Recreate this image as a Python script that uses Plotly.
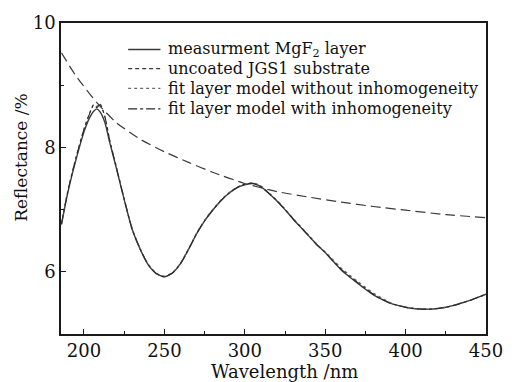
import plotly.graph_objects as go

# Wavelength grid (nm) for the measured and fitted reflectance spectra
wavelength = [186, 190, 195, 200, 203, 206, 208, 210, 213, 216, 220, 225, 230, 235,
              240, 245, 250, 255, 260, 265, 270, 275, 280, 285, 290, 295, 300, 305,
              310, 315, 320, 325, 330, 335, 340, 345, 350, 355, 360, 365, 370, 375,
              380, 385, 390, 395, 400, 405, 410, 415, 420, 425, 430, 435, 440, 445, 450]

# Measured reflectance of the MgF2 layer (%)
measured = [6.76, 7.28, 7.80, 8.25, 8.45, 8.58, 8.62, 8.57, 8.40, 8.08, 7.68, 7.16, 6.68, 6.36,
            6.11, 5.97, 5.92, 5.98, 6.13, 6.36, 6.61, 6.82, 6.99, 7.14, 7.26, 7.35, 7.40, 7.42,
            7.37, 7.26, 7.14, 7.00, 6.85, 6.71, 6.57, 6.43, 6.31, 6.17, 6.03, 5.92, 5.82, 5.72,
            5.63, 5.56, 5.50, 5.46, 5.43, 5.41, 5.40, 5.40, 5.41, 5.43, 5.46, 5.50, 5.54, 5.59, 5.64]

# Fitted layer model without inhomogeneity (%)
fit_homog = [6.78, 7.31, 7.84, 8.30, 8.52, 8.69, 8.66, 8.70, 8.50, 8.12, 7.70, 7.17, 6.69, 6.37,
             6.12, 5.98, 5.93, 5.99, 6.14, 6.37, 6.62, 6.83, 7.00, 7.15, 7.27, 7.36, 7.41, 7.43,
             7.38, 7.27, 7.15, 7.01, 6.86, 6.72, 6.58, 6.44, 6.32, 6.19, 6.06, 5.95, 5.85, 5.75,
             5.66, 5.58, 5.51, 5.46, 5.43, 5.41, 5.40, 5.40, 5.41, 5.43, 5.46, 5.50, 5.54, 5.59, 5.64]

# Fitted layer model with inhomogeneity (%)
fit_inhomog = [6.77, 7.30, 7.83, 8.29, 8.51, 8.68, 8.64, 8.69, 8.49, 8.11, 7.69, 7.17, 6.68, 6.36,
               6.11, 5.97, 5.92, 5.98, 6.13, 6.36, 6.61, 6.82, 6.99, 7.14, 7.26, 7.35, 7.41, 7.42,
               7.37, 7.26, 7.14, 7.00, 6.85, 6.71, 6.57, 6.43, 6.31, 6.17, 6.04, 5.93, 5.83, 5.73,
               5.64, 5.56, 5.50, 5.46, 5.43, 5.41, 5.40, 5.40, 5.41, 5.43, 5.46, 5.50, 5.54, 5.59, 5.64]

# Uncoated JGS1 substrate reflectance (%)
substrate_wl = [186, 195, 208, 220, 235, 250, 265, 280, 300, 320, 340, 360, 380, 400, 425, 450]
substrate = [9.52, 9.15, 8.72, 8.40, 8.13, 7.93, 7.76, 7.60, 7.42, 7.29, 7.20, 7.12, 7.05, 6.99, 6.92, 6.87]

legend_labels = ["measurment MgF<sub>2</sub> layer",
                 "uncoated JGS1 substrate",
                 "fit layer model without inhomogeneity",
                 "fit layer model with inhomogeneity"]

SERIF = "DejaVu Serif"
INK = "#111111"

styles = [
    dict(color="#3a3a3a", width=1.4),
    dict(color="#3a3a3a", width=1.2, dash="10px,5px"),
    dict(color="#6a6a6a", width=1.2, dash="dot"),
    dict(color="#2a2a2a", width=1.1, dash="dashdot"),
]
series = [(wavelength, measured), (substrate_wl, substrate),
          (wavelength, fit_homog), (wavelength, fit_inhomog)]

fig = go.Figure()
for (xs, ys), name, st in zip(series, legend_labels, styles):
    fig.add_trace(go.Scatter(x=xs, y=ys, mode="lines", name=name,
                             line=dict(shape="spline", smoothing=0.6, **st)))

# Legend block drawn as key lines plus labels, placed in paper coordinates
row_y = [0.915, 0.853, 0.790, 0.724]
key_dash = ["solid", "4px,3px", "dot", "dashdot"]
for st, yk, dash, label in zip(styles, row_y, key_dash, legend_labels):
    fig.add_shape(type="line", xref="paper", yref="paper",
                  x0=0.158, x1=0.234, y0=yk, y1=yk,
                  line=dict(color=st["color"], width=st["width"], dash=dash))
    fig.add_annotation(xref="paper", yref="paper", x=0.247, y=yk,
                       xanchor="left", yanchor="middle", showarrow=False,
                       text=label, font=dict(family=SERIF, size=16, color=INK))

# Axis titles
fig.add_annotation(xref="paper", yref="paper", x=0.527, y=-0.119,
                   xanchor="center", yanchor="middle", showarrow=False,
                   text="Wavelength /nm", font=dict(family=SERIF, size=18, color=INK))
fig.add_annotation(xref="paper", yref="paper", x=-0.096, y=0.567,
                   xanchor="center", yanchor="middle", showarrow=False, textangle=-90,
                   text="Reflectance /%", font=dict(family=SERIF, size=17, color=INK))

axis_common = dict(
    showline=True, linecolor="#1a1a1a", linewidth=1.6, mirror=True,
    ticks="inside", ticklen=5, tickwidth=1.3, tickcolor="#1a1a1a",
    showgrid=False, zeroline=False,
    tickfont=dict(family=SERIF, size=18, color=INK),
)

fig.update_layout(
    width=515, height=382,
    margin=dict(l=61, r=29, t=15, b=48),
    paper_bgcolor="white", plot_bgcolor="white",
    showlegend=False,
    xaxis=dict(range=[185.7, 450], tick0=200, dtick=50,
               minor=dict(ticks="inside", ticklen=3, tickwidth=1.2, tickcolor="#1a1a1a",
                          dtick=25, tick0=200, showgrid=False),
               **axis_common),
    yaxis=dict(range=[5, 10], tick0=6, dtick=2,
               minor=dict(ticks="inside", ticklen=3, tickwidth=1.2, tickcolor="#1a1a1a",
                          dtick=1, tick0=5, showgrid=False),
               **axis_common),
)

fig.write_html("out.html")
